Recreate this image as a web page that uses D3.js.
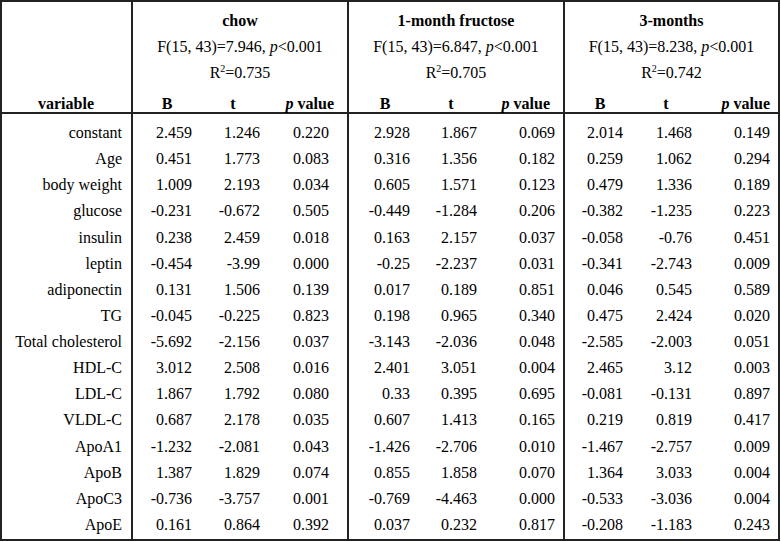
<!DOCTYPE html>
<html lang="en">
<head>
<meta charset="utf-8">
<script src="https://d3js.org/d3.v7.min.js"></script>
<style>
  body { margin: 0; background: #fff; }
  svg { display: block; font-family: "Liberation Serif", "Times New Roman", serif; font-size: 16px; }
</style>
</head>
<body>
<script>
var variables = ["constant", "Age", "body weight", "glucose", "insulin", "leptin", "adiponectin", "TG",
  "Total cholesterol", "HDL-C", "LDL-C", "VLDL-C", "ApoA1", "ApoB", "ApoC3", "ApoE"];

var groups = ["chow", "1-month fructose", "3-months"];
var fStats = ["7.946", "6.847", "8.238"];
var r2 = ["0.735", "0.705", "0.742"];

var chowB = [2.459, 0.451, 1.009, -0.231, 0.238, -0.454, 0.131, -0.045, -5.692, 3.012, 1.867, 0.687, -1.232, 1.387, -0.736, 0.161];
var chowT = [1.246, 1.773, 2.193, -0.672, 2.459, -3.99, 1.506, -0.225, -2.156, 2.508, 1.792, 2.178, -2.081, 1.829, -3.757, 0.864];
var chowP = [0.220, 0.083, 0.034, 0.505, 0.018, 0.000, 0.139, 0.823, 0.037, 0.016, 0.080, 0.035, 0.043, 0.074, 0.001, 0.392];

var m1B = [2.928, 0.316, 0.605, -0.449, 0.163, -0.25, 0.017, 0.198, -3.143, 2.401, 0.33, 0.607, -1.426, 0.855, -0.769, 0.037];
var m1T = [1.867, 1.356, 1.571, -1.284, 2.157, -2.237, 0.189, 0.965, -2.036, 3.051, 0.395, 1.413, -2.706, 1.858, -4.463, 0.232];
var m1P = [0.069, 0.182, 0.123, 0.206, 0.037, 0.031, 0.851, 0.340, 0.048, 0.004, 0.695, 0.165, 0.010, 0.070, 0.000, 0.817];

var m3B = [2.014, 0.259, 0.479, -0.382, -0.058, -0.341, 0.046, 0.475, -2.585, 2.465, -0.081, 0.219, -1.467, 1.364, -0.533, -0.208];
var m3T = [1.468, 1.062, 1.336, -1.235, -0.76, -2.743, 0.545, 2.424, -2.003, 3.12, -0.131, 0.819, -2.757, 3.033, -3.036, -1.183];
var m3P = [0.149, 0.294, 0.189, 0.223, 0.451, 0.009, 0.589, 0.020, 0.051, 0.003, 0.897, 0.417, 0.009, 0.004, 0.004, 0.243];

var W = 781, H = 542;
var svg = d3.select("body").append("svg").attr("width", W).attr("height", H);

// layout
var colEdges = [132, 348, 564];
var headY = 113;
var y = d3.scaleLinear().domain([0, variables.length - 1]).range([138, 530]);
var fmtP = d3.format(".3f");

var series = [
  {B: chowB, T: chowT, P: chowP, xB: 192, xT: 260, xP: 329, hB: 167, hT: 233, hP: 334},
  {B: m1B, T: m1T, P: m1P, xB: 410, xT: 477, xP: 555, hB: 385, hT: 451, hP: 550},
  {B: m3B, T: m3T, P: m3P, xB: 623, xT: 692, xP: 770, hB: 600, hT: 666, hP: 770}
];

// grid lines
var lineCol = "#222";
svg.append("rect").attr("x", 1).attr("y", 1).attr("width", W - 3).attr("height", H - 3)
  .attr("fill", "none").attr("stroke", lineCol).attr("stroke-width", 2);
svg.selectAll("line.v").data(colEdges).enter().append("line")
  .attr("x1", d => d).attr("x2", d => d).attr("y1", 1).attr("y2", H - 2)
  .attr("stroke", lineCol).attr("stroke-width", 2);
svg.append("line").attr("x1", 1).attr("x2", W - 2).attr("y1", headY).attr("y2", headY)
  .attr("stroke", lineCol).attr("stroke-width", 2);

// group headers
groups.forEach(function(g, i) {
  var cx = (colEdges[i] + (i < 2 ? colEdges[i + 1] : W - 2)) / 2;
  svg.append("text").attr("x", cx).attr("y", 26).attr("text-anchor", "middle")
    .attr("font-weight", "bold").text(g);
  var f = svg.append("text").attr("x", cx).attr("y", 52).attr("text-anchor", "middle");
  f.append("tspan").text("F(15, 43)=" + fStats[i] + ", ");
  f.append("tspan").attr("font-style", "italic").text("p");
  f.append("tspan").text("<0.001");
  var r = svg.append("text").attr("x", cx).attr("y", 78).attr("text-anchor", "middle");
  r.append("tspan").text("R");
  r.append("tspan").attr("font-size", "10px").attr("dy", -6).text("2");
  r.append("tspan").attr("dy", 6).text("=" + r2[i]);

  var s = series[i];
  svg.append("text").attr("x", s.hB).attr("y", 109).attr("text-anchor", "middle")
    .attr("font-weight", "bold").text("B");
  svg.append("text").attr("x", s.hT).attr("y", 109).attr("text-anchor", "middle")
    .attr("font-weight", "bold").text("t");
  var pv = svg.append("text").attr("x", s.hP).attr("y", 109).attr("text-anchor", "end")
    .attr("font-weight", "bold");
  pv.append("tspan").attr("font-style", "italic").text("p");
  pv.append("tspan").text(" value");
});

svg.append("text").attr("x", 66).attr("y", 109).attr("text-anchor", "middle")
  .attr("font-weight", "bold").text("variable");

// row labels
svg.selectAll("text.var").data(variables).enter().append("text")
  .attr("class", "var")
  .attr("x", 122).attr("y", (d, i) => y(i))
  .attr("text-anchor", "end").text(d => d);

// values
series.forEach(function(s) {
  [["B", s.xB, String], ["T", s.xT, String], ["P", s.xP, fmtP]].forEach(function(c) {
    svg.append("g").selectAll("text").data(s[c[0]]).enter().append("text")
      .attr("x", c[1]).attr("y", (d, i) => y(i))
      .attr("text-anchor", "end").text(d => c[2](d));
  });
});
</script>
</body>
</html>
